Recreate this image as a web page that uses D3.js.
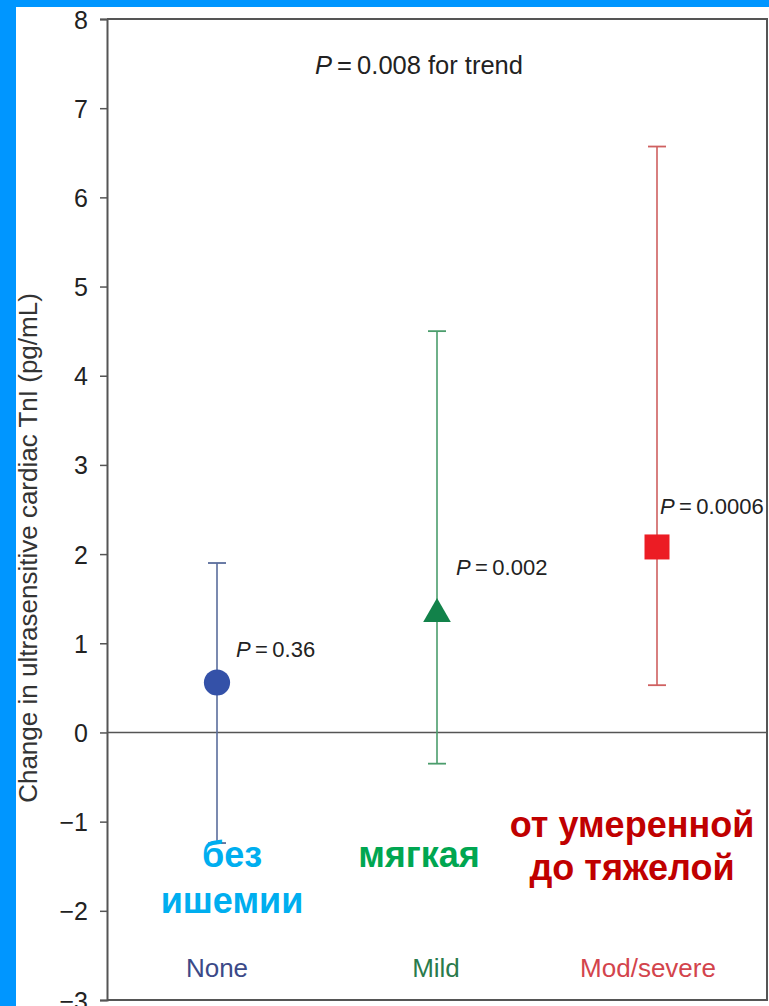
<!DOCTYPE html>
<html>
<head>
<meta charset="utf-8">
<script src="https://cdn.jsdelivr.net/npm/d3@7"></script>
<style>
  html, body { margin: 0; padding: 0; background: #fff; }
  svg { display: block; }
</style>
</head>
<body>
<svg id="chart" width="769" height="1006"></svg>
<script>
// Ischaemia groups and their change in ultrasensitive cardiac TnI
const categories = ["None", "Mild", "Mod/severe"];
const estimates  = [0.56, 1.35, 2.08];
const lowerCI    = [-1.24, -0.35, 0.53];
const upperCI    = [1.90, 4.50, 6.57];
const pLabels    = ["0.36", "0.002", "0.0006"];
const ruLabels   = [["без", "ишемии"], ["мягкая"], ["от умеренной", "до тяжелой"]];
const yTicks     = [-3, -2, -1, 0, 1, 2, 3, 4, 5, 6, 7, 8];
const trendP     = "0.008";

const markerColors = ["#3451a8", "#12824a", "#ec1c24"];
const barColors    = ["#5a6d9c", "#4b9d6c", "#cf6060"];
const labelColors  = ["#3b4a88", "#2a7a4c", "#d3444c"];
const ruColors     = ["#00aeef", "#00a651", "#c00000"];
const shapes       = [d3.symbolCircle, d3.symbolTriangle, d3.symbolSquare];
const shapeSizes   = [540, 330, 625];

const svg = d3.select("#chart");
const W = 769, H = 1006;
const plot = { left: 107, right: 767, top: 19, bottom: 1000 };

svg.append("rect").attr("width", W).attr("height", H).attr("fill", "#fff");

const x = d3.scalePoint().domain(categories).range([plot.left, plot.right]).padding(0.5);
const y = d3.scaleLinear().domain([-3, 8]).range([plot.bottom, plot.top]);

const font = "'Liberation Sans', Arial, Helvetica, sans-serif";
const axisColor = "#555";

// Frame on the top and right sides
svg.append("path")
  .attr("d", `M${plot.left},${plot.top}H${plot.right}V${plot.bottom}H${plot.left}`)
  .attr("fill", "none").attr("stroke", axisColor).attr("stroke-width", 2);

// Left axis
const yAxis = d3.axisLeft(y).tickValues(yTicks).tickSize(7).tickPadding(12)
  .tickFormat(d => d < 0 ? "\u2212" + Math.abs(d) : d);
const gy = svg.append("g").attr("transform", `translate(${plot.left},0)`).call(yAxis);
gy.select(".domain").attr("stroke", axisColor).attr("stroke-width", 2);
gy.selectAll(".tick line").attr("stroke", axisColor).attr("stroke-width", 1.5);
gy.selectAll(".tick text").attr("font-family", font).attr("font-size", 25)
  .attr("fill", "#222").attr("dy", "0.36em");

// Zero reference line
svg.append("line")
  .attr("x1", plot.left).attr("x2", plot.right)
  .attr("y1", y(0)).attr("y2", y(0))
  .attr("stroke", axisColor).attr("stroke-width", 1.5);

// Y axis title
svg.append("text")
  .attr("transform", `translate(37,548) rotate(-90)`)
  .attr("text-anchor", "middle")
  .attr("font-family", font).attr("font-size", 26).attr("fill", "#333")
  .text("Change in ultrasensitive cardiac TnI (pg/mL)");

// Error bars with caps
const capW = 9;
const groups = svg.selectAll("g.grp").data(categories).join("g").attr("class", "grp");
groups.append("line")
  .attr("x1", d => x(d)).attr("x2", d => x(d))
  .attr("y1", (d, i) => y(upperCI[i])).attr("y2", (d, i) => y(lowerCI[i]))
  .attr("stroke", (d, i) => barColors[i]).attr("stroke-width", 1.6);
groups.append("line")
  .attr("x1", d => x(d) - capW).attr("x2", d => x(d) + capW)
  .attr("y1", (d, i) => y(upperCI[i])).attr("y2", (d, i) => y(upperCI[i]))
  .attr("stroke", (d, i) => barColors[i]).attr("stroke-width", 1.8);
groups.append("line")
  .attr("x1", d => x(d) - capW).attr("x2", d => x(d) + capW)
  .attr("y1", (d, i) => y(lowerCI[i])).attr("y2", (d, i) => y(lowerCI[i]))
  .attr("stroke", (d, i) => barColors[i]).attr("stroke-width", 1.8);

// Point estimates
groups.append("path")
  .attr("transform", (d, i) => `translate(${x(d)},${y(estimates[i]) + (i === 1 ? 2 : 0)})`)
  .attr("d", (d, i) => d3.symbol().type(shapes[i]).size(shapeSizes[i])())
  .attr("fill", (d, i) => markerColors[i]);

// P values beside each estimate
const pOffsets = [[19, -26], [19, -37], [3, -33]];
groups.append("text")
  .attr("x", (d, i) => x(d) + pOffsets[i][0])
  .attr("y", (d, i) => y(estimates[i]) + pOffsets[i][1])
  .attr("font-family", font).attr("font-size", 22).attr("fill", "#222")
  .each(function(d, i) {
    const t = d3.select(this);
    t.append("tspan").attr("font-style", "italic").text("P");
    t.append("tspan").text("\u2009=\u2009" + pLabels[i]);
  });

// Trend P value
const trend = svg.append("text")
  .attr("x", 315).attr("y", 74)
  .attr("font-family", font).attr("font-size", 25.5).attr("fill", "#222");
trend.append("tspan").attr("font-style", "italic").text("P");
trend.append("tspan").text("\u2009=\u2009" + trendP + " for trend");

// Category labels along the bottom
const catOffsets = [0, -1, -9];
svg.selectAll("text.cat").data(categories).join("text").attr("class", "cat")
  .attr("x", (d, i) => x(d) + catOffsets[i]).attr("y", 977)
  .attr("text-anchor", "middle")
  .attr("font-family", font).attr("font-size", 26)
  .attr("fill", (d, i) => labelColors[i])
  .text(d => d);

// Russian group names
const ruPos = [[15, 867], [-18, 867], [-25, 837]];
categories.forEach((c, i) => {
  const t = svg.append("text")
    .attr("text-anchor", "middle")
    .attr("font-family", font).attr("font-weight", "bold").attr("font-size", 36)
    .attr("fill", ruColors[i]);
  ruLabels[i].forEach((line, j) => {
    t.append("tspan")
      .attr("x", x(c) + ruPos[i][0])
      .attr("y", ruPos[i][1] + j * (i === 2 ? 43 : 46))
      .text(line);
  });
});

// Blue page border on the top and left
svg.append("rect").attr("x", 0).attr("y", 0).attr("width", W).attr("height", 7).attr("fill", "#0096ff");
svg.append("rect").attr("x", 0).attr("y", 0).attr("width", 16).attr("height", H).attr("fill", "#0096ff");
</script>
</body>
</html>
